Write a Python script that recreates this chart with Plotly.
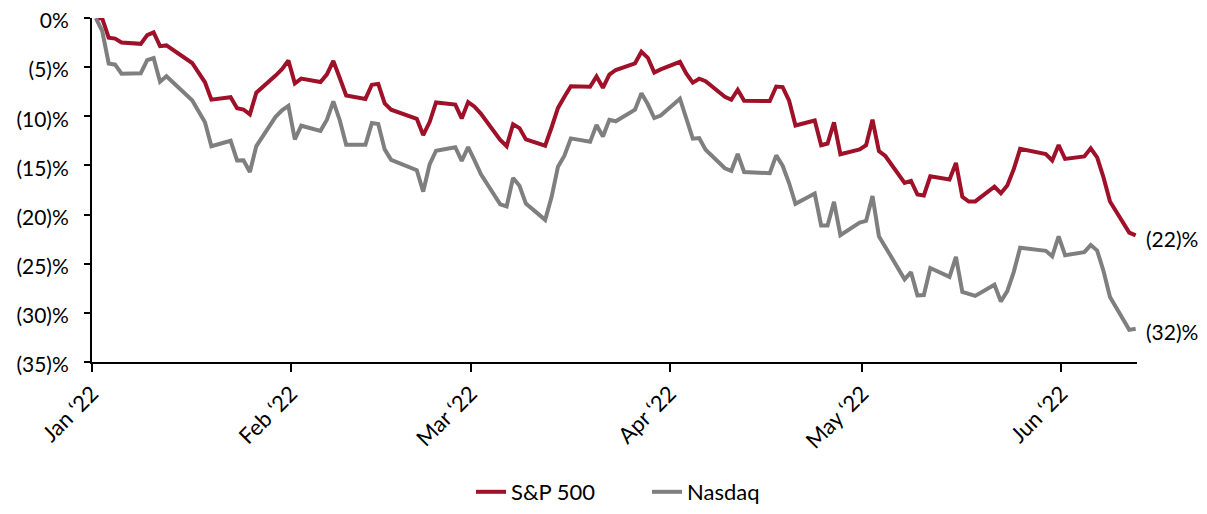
import pandas as pd
import plotly.graph_objects as go

dates = [
    "2022-01-03", "2022-01-04", "2022-01-05", "2022-01-06", "2022-01-07",
    "2022-01-10", "2022-01-11", "2022-01-12", "2022-01-13", "2022-01-14",
    "2022-01-18", "2022-01-19", "2022-01-20", "2022-01-21",
    "2022-01-24", "2022-01-25", "2022-01-26", "2022-01-27", "2022-01-28",
    "2022-01-31", "2022-02-01", "2022-02-02", "2022-02-03", "2022-02-04",
    "2022-02-07", "2022-02-08", "2022-02-09", "2022-02-10", "2022-02-11",
    "2022-02-14", "2022-02-15", "2022-02-16", "2022-02-17", "2022-02-18",
    "2022-02-22", "2022-02-23", "2022-02-24", "2022-02-25",
    "2022-02-28", "2022-03-01", "2022-03-02", "2022-03-03", "2022-03-04",
    "2022-03-07", "2022-03-08", "2022-03-09", "2022-03-10", "2022-03-11",
    "2022-03-14", "2022-03-15", "2022-03-16", "2022-03-17", "2022-03-18",
    "2022-03-21", "2022-03-22", "2022-03-23", "2022-03-24", "2022-03-25",
    "2022-03-28", "2022-03-29", "2022-03-30", "2022-03-31", "2022-04-01",
    "2022-04-04", "2022-04-05", "2022-04-06", "2022-04-07", "2022-04-08",
    "2022-04-11", "2022-04-12", "2022-04-13", "2022-04-14",
    "2022-04-18", "2022-04-19", "2022-04-20", "2022-04-21", "2022-04-22",
    "2022-04-25", "2022-04-26", "2022-04-27", "2022-04-28", "2022-04-29",
    "2022-05-02", "2022-05-03", "2022-05-04", "2022-05-05", "2022-05-06",
    "2022-05-09", "2022-05-10", "2022-05-11", "2022-05-12", "2022-05-13",
    "2022-05-16", "2022-05-17", "2022-05-18", "2022-05-19", "2022-05-20",
    "2022-05-23", "2022-05-24", "2022-05-25", "2022-05-26", "2022-05-27",
    "2022-05-31", "2022-06-01", "2022-06-02", "2022-06-03",
    "2022-06-06", "2022-06-07", "2022-06-08", "2022-06-09", "2022-06-10",
    "2022-06-13", "2022-06-14",
]

sp500 = [
    0.0, -0.06, -2.00, -2.10, -2.49,
    -2.63, -1.74, -1.46, -2.87, -2.79,
    -4.58, -5.50, -6.54, -8.31,
    -8.06, -9.18, -9.31, -9.80, -7.60,
    -5.86, -5.21, -4.32, -6.65, -6.17,
    -6.52, -5.73, -4.37, -6.10, -7.88,
    -8.23, -6.79, -6.70, -8.68, -9.33,
    -10.25, -11.91, -10.59, -8.59,
    -8.81, -10.22, -8.55, -9.03, -9.75,
    -12.41, -13.05, -10.81, -11.20, -12.35,
    -13.00, -11.14, -9.15, -8.02, -6.95,
    -6.99, -5.94, -7.10, -5.76, -5.29,
    -4.61, -3.44, -4.05, -5.55, -5.23,
    -4.46, -5.66, -6.58, -6.18, -6.43,
    -8.01, -8.32, -7.30, -8.42,
    -8.44, -6.97, -7.03, -8.40, -10.94,
    -10.43, -12.95, -12.77, -10.61, -13.86,
    -13.37, -12.95, -10.35, -13.54, -14.04,
    -16.79, -16.58, -17.96, -18.06, -16.11,
    -16.44, -14.75, -18.20, -18.68, -18.66,
    -17.15, -17.83, -17.05, -15.40, -13.31,
    -13.85, -14.50, -12.92, -14.34,
    -14.08, -13.26, -14.19, -16.24, -18.67,
    -21.83, -22.12,
]

nasdaq = [
    0.0, -1.33, -4.63, -4.75, -5.66,
    -5.62, -4.29, -4.07, -6.48, -5.93,
    -8.37, -9.43, -10.60, -13.04,
    -12.49, -14.49, -14.47, -15.66, -13.03,
    -10.06, -9.39, -8.94, -12.34, -10.96,
    -11.48, -10.35, -8.48, -10.40, -12.90,
    -12.90, -10.69, -10.79, -13.37, -14.43,
    -15.48, -17.66, -14.90, -13.50,
    -13.15, -14.53, -13.14, -14.49, -15.91,
    -18.96, -19.18, -16.28, -17.07, -18.88,
    -20.54, -18.22, -15.13, -14.01, -12.25,
    -12.60, -10.89, -12.06, -10.36, -10.51,
    -9.33, -7.66, -8.78, -10.18, -9.92,
    -8.21, -10.29, -12.28, -12.22, -13.40,
    -15.29, -15.55, -13.83, -15.67,
    -15.79, -13.98, -15.03, -16.79, -18.91,
    -17.86, -21.11, -21.12, -18.70, -22.09,
    -20.82, -20.65, -18.11, -22.20, -23.29,
    -26.59, -25.86, -28.22, -28.18, -25.44,
    -26.34, -24.31, -27.88, -28.07, -28.28,
    -27.14, -28.85, -27.78, -25.85, -23.38,
    -23.69, -24.24, -22.21, -24.13,
    -23.82, -23.10, -23.66, -25.76, -28.38,
    -31.73, -31.61,
]

month_ticks = ["2022-01-01", "2022-02-01", "2022-03-01", "2022-04-01", "2022-05-01", "2022-06-01"]
month_labels = ["Jan \u201822", "Feb \u201822", "Mar \u201822", "Apr \u201822", "May \u201822", "Jun \u201822"]

y_ticks = [0, -5, -10, -15, -20, -25, -30, -35]
y_labels = ["0%", "(5)%", "(10)%", "(15)%", "(20)%", "(25)%", "(30)%", "(35)%"]

end_labels = ["(22)%", "(32)%"]

RED = "#9E1129"
GRAY = "#7F7F7F"
FONT = "Lato, Carlito, 'Open Sans', sans-serif"
FS = 22

# the page body adds an 8px offset, so the figure is sized to fit the window
W, H = 1199, 506
ML, MR, MT, MB = 84, 70, 10, 152
PLOT_W = W - ML - MR
PLOT_H = H - MT - MB

# the source chart places month ticks ~1.4 days after the month start
tick_offset = pd.Timedelta(hours=33.6)
tick_pos = [(pd.Timestamp(d) + tick_offset).strftime("%Y-%m-%d %H:%M") for d in month_ticks]
x_start = tick_pos[0]
x_end = (pd.Timestamp(dates[-1]) + pd.Timedelta(hours=5)).strftime("%Y-%m-%d %H:%M")

fig = go.Figure()
fig.add_trace(go.Scatter(
    x=dates, y=sp500, name="S&P 500", mode="lines",
    line=dict(color=RED, width=4), cliponaxis=False,
))
fig.add_trace(go.Scatter(
    x=dates, y=nasdaq, name="Nasdaq", mode="lines",
    line=dict(color=GRAY, width=4), cliponaxis=False,
))

for series, label in zip([sp500, nasdaq], end_labels):
    fig.add_annotation(
        x=dates[-1], y=series[-1], text=label, showarrow=False,
        xanchor="left", yanchor="middle", xshift=8, yshift=-3,
        font=dict(size=21, color="black", family=FONT),
    )

legend_left = 463
legend_center_y = 484

fig.update_layout(
    width=W, height=H,
    margin=dict(l=ML, r=MR, t=MT, b=MB, autoexpand=False),
    paper_bgcolor="white", plot_bgcolor="white",
    font=dict(family=FONT, size=FS, color="black"),
    showlegend=True,
    legend=dict(
        orientation="h",
        x=(legend_left - ML) / PLOT_W, xanchor="left",
        y=(H - MB - legend_center_y) / PLOT_H, yanchor="middle",
        font=dict(size=FS, family=FONT, color="black"),
        entrywidth=131, entrywidthmode="pixels",
    ),
    xaxis=dict(
        type="date", range=[x_start, x_end], automargin=False,
        tickmode="array", tickvals=tick_pos, ticktext=month_labels,
        tickangle=-45, ticks="outside", ticklen=8, tickwidth=1.5, tickcolor="black",
        showline=True, linecolor="black", linewidth=2,
        showgrid=False, zeroline=False, ticklabeloverflow="allow",
        tickfont=dict(size=FS, family=FONT, color="black"),
    ),
    yaxis=dict(
        range=[-35, 0], automargin=False,
        tickmode="array", tickvals=y_ticks, ticktext=y_labels,
        ticks="outside", ticklen=6, tickwidth=1.5, tickcolor="black",
        showline=True, linecolor="black", linewidth=2,
        showgrid=False, zeroline=False, ticklabeloverflow="allow",
        tickfont=dict(size=21, family=FONT, color="black"),
        ticklabelstandoff=11, ticklabelshift=3,
    ),
)

fig.write_html("out.html")
